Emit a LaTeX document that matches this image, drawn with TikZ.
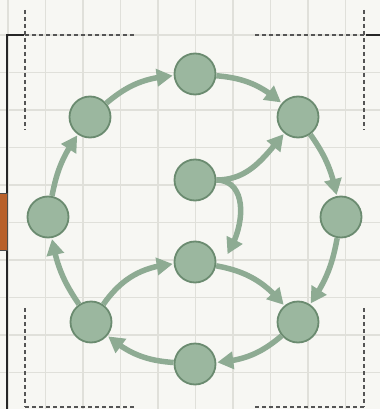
\documentclass[tikz,border=0pt]{standalone}
\usetikzlibrary{arrows.meta,bending}
\definecolor{bgc}{HTML}{F7F7F3}
\definecolor{gridc}{HTML}{E0E0DA}
\definecolor{nodefill}{HTML}{9BB79F}
\definecolor{nodeedge}{HTML}{6B8B70}
\definecolor{arrowc}{HTML}{8EAB93}
\definecolor{orangec}{HTML}{B8602A}
\definecolor{dashc}{HTML}{555555}
\tikzset{
  vert/.style={circle, draw=nodeedge, fill=nodefill, line width=1.8pt, minimum size=41pt, inner sep=0pt},
  flow/.style={draw=arrowc, line width=5.5pt, -{Triangle[length=16pt,width=17pt,flex]}, shorten >=1pt, shorten <=0pt},
  guide/.style={draw=dashc, line width=1.5pt, dash pattern=on 4pt off 3pt},
  frame/.style={draw=black!85, line width=1.5pt}
}
\begin{document}
\begin{tikzpicture}[x=1pt,y=-1pt]
\fill[bgc] (0,0) rectangle (380,409);
\useasboundingbox (0,0) rectangle (380,409);
% grid
\foreach \gx in {8,45.5,83,120.5,158,195.5,233,270.5,308,345.5}
  \draw[gridc, line width=1.3pt] (\gx,0) -- (\gx,409);
\foreach \gy in {35,72.5,110,147.5,185,222.5,260,297.5,335,372.5}
  \draw[gridc, line width=1.3pt] (0,\gy) -- (380,\gy);
% frame bits
\draw[frame] (24,35) -- (7,35) -- (7,409);
\draw[frame] (366,35) -- (380,35);
\filldraw[fill=orangec, draw=black!70, line width=0.8pt] (-1,193) rectangle (7,250);
% guides
\draw[guide] (25,10) -- (25,130);
\draw[guide] (25,35) -- (135,35);
\draw[guide] (364,10) -- (364,130);
\draw[guide] (255,35) -- (364,35);
\draw[guide] (25,308) -- (25,407);
\draw[guide] (25,407) -- (135,407);
\draw[guide] (364,308) -- (364,407);
\draw[guide] (255,407) -- (364,407);
% nodes
\node[vert] (top) at (195,74) {};
\node[vert] (ul) at (90,117) {};
\node[vert] (ur) at (298,117) {};
\node[vert] (ct) at (195,180) {};
\node[vert] (lf) at (48,217) {};
\node[vert] (rt) at (341,217) {};
\node[vert] (cb) at (195,262) {};
\node[vert] (ll) at (91,322) {};
\node[vert] (lr) at (298,322) {};
\node[vert] (bt) at (195,364) {};
\coordinate (cbin) at (227,255);
% arrows
\draw[flow] (ul) to[bend left=18] (top);
\draw[flow] (top) to[bend left=18] (ur);
\draw[flow] (ur) to[bend left=12] (rt);
\draw[flow] (rt) to[bend left=12] (lr);
\draw[flow] (lr) to[bend left=18] (bt);
\draw[flow] (bt) to[bend left=18] (ll);
\draw[flow] (ll) to[bend left=12] (lf);
\draw[flow] (lf) to[bend left=12] (ul);
\draw[flow] (ct.east) to[out=0,in=-130] (ur);
\draw[flow] (ct.east) .. controls +(30,0) and +(20,-32) .. (cbin);
\draw[flow] (cb) to[bend left=20] (lr);
\draw[flow] (ll) to[bend left=25] (cb);
\end{tikzpicture}
\end{document}
